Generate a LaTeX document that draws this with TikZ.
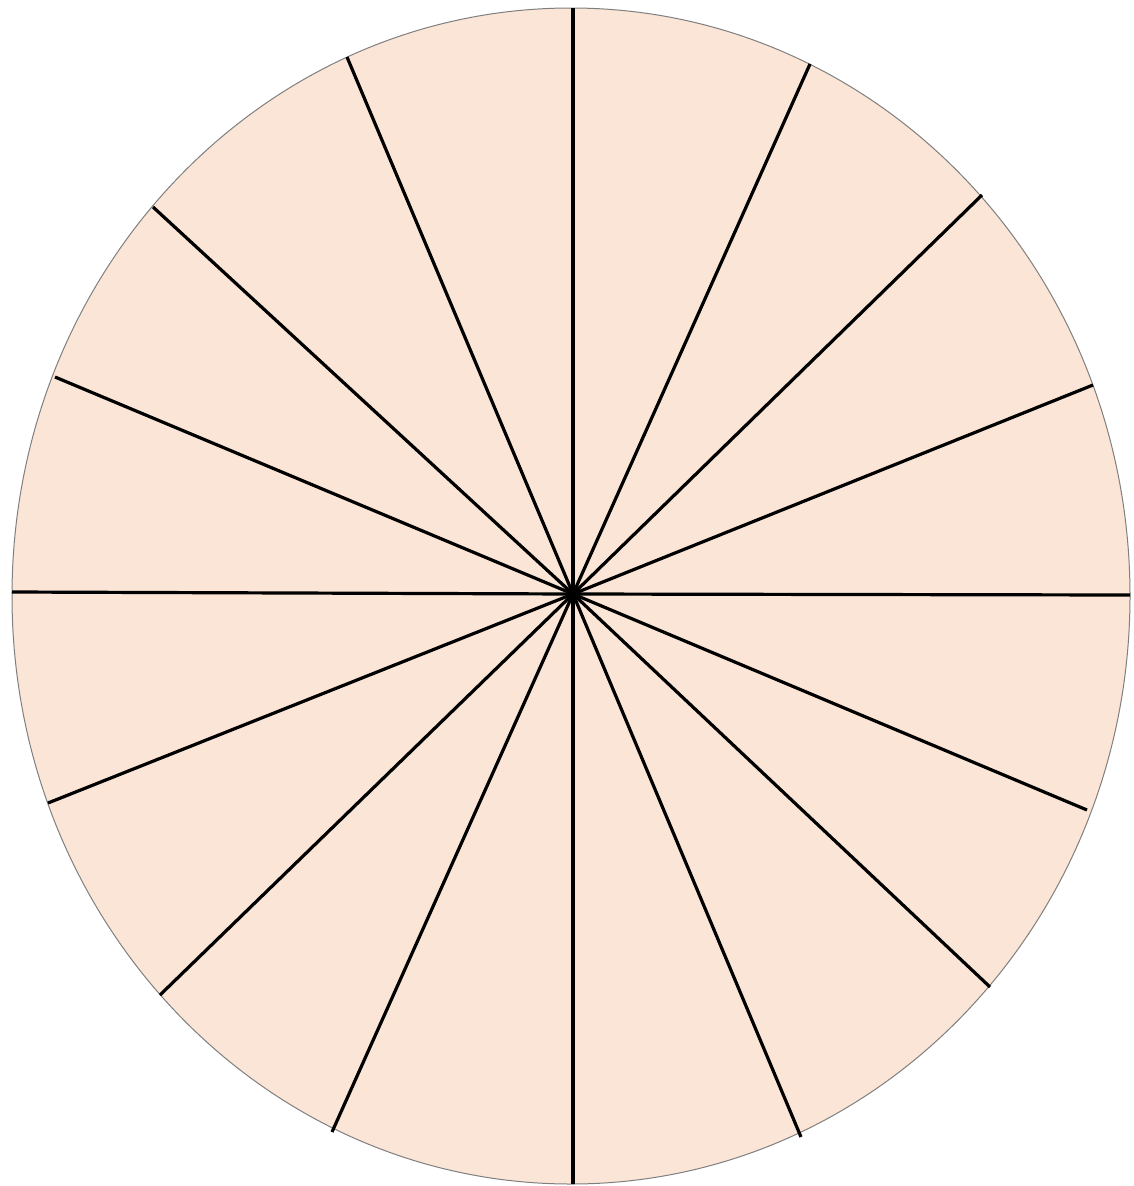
\documentclass[tikz,border=0pt]{standalone}
\definecolor{peach}{HTML}{FBE5D6}
\definecolor{rim}{HTML}{7F7F7F}
\begin{document}
\begin{tikzpicture}[x=1pt,y=-1pt,
  spoke/.style={line width=3.2pt,black},
  disc/.style={fill=peach,draw=rim,line width=1pt}]
\useasboundingbox (0,0) rectangle (1133,1186);
\draw[disc] (571,596) ellipse [x radius=559, y radius=588];
\coordinate (c) at (573,594);
\foreach \x/\y [count=\i] in {573/8, 810/64, 982/195, 1093/385, 1130/595, 1087/810, 990/987, 801/1137, 573/1184, 332/1132, 160/995, 48/803, 12/592, 55/377, 153/207, 347/57}{
  \coordinate (e\i) at (\x,\y);
  \draw[spoke] (c) -- (e\i);
}
\end{tikzpicture}
\end{document}
